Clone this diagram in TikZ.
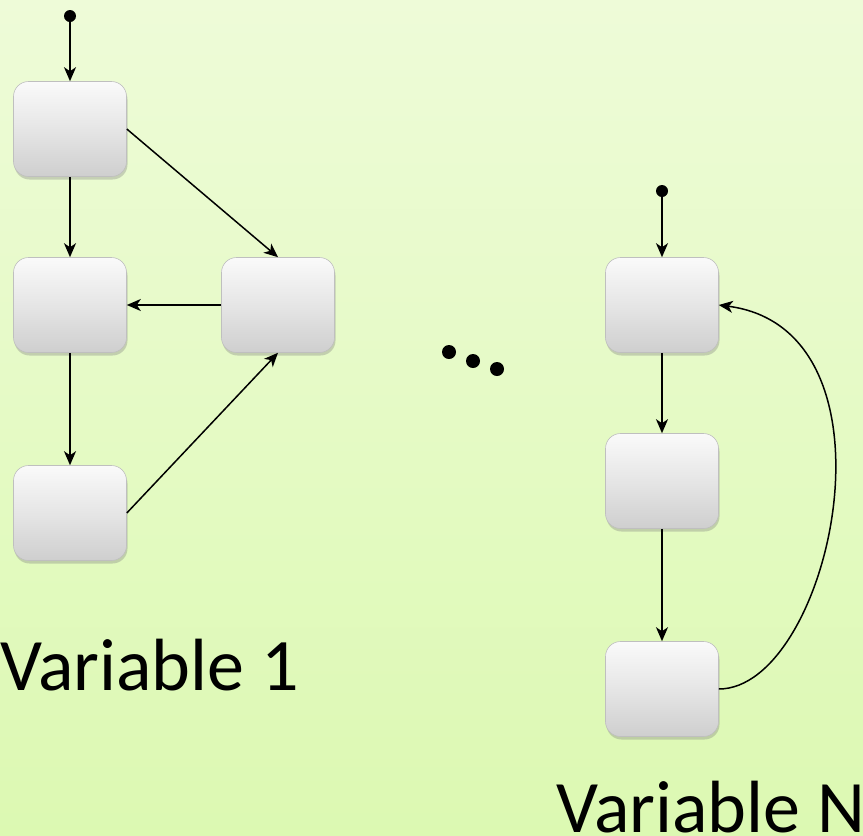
\documentclass[tikz,border=0pt]{standalone}
\usepackage{fontspec}
\setmainfont{Carlito}
\usetikzlibrary{arrows.meta, shadows}

\begin{document}
\begin{tikzpicture}[x=1pt, y=1pt,
   state/.style={rounded corners=15pt, minimum width=113pt, minimum height=95pt,
      draw=gray!50, line width=0.6pt, top color=gray!4, bottom color=gray!38,
      middle color=gray!20,
      drop shadow={shadow xshift=1pt, shadow yshift=-3pt, opacity=0.35}},
   start/.style={circle, fill=black, inner sep=0pt, minimum size=12pt},
   dot/.style={circle, fill=black, inner sep=0pt, minimum size=14pt},
   trans/.style={line width=1.5pt, -{Stealth[length=14pt, width=12pt, inset=4pt]}},
   varlabel/.style={inner sep=0pt, anchor=base west, font=\fontsize{74}{88}\selectfont}]
\useasboundingbox (0,-836) rectangle (863,0);
\shade[top color={rgb,255:red,238;green,251;blue,216}, bottom color={rgb,255:red,220;green,249;blue,178}]
   (0,-836) rectangle (863,0);
\begin{scope}
\clip (0,-836) rectangle (863,0);
% variable 1
\node[start] (s1) at (70,-16) {};
\node[state] (a1) at (70,-129) {};
\node[state] (a2) at (70,-305) {};
\node[state] (a3) at (70,-513) {};
\node[state] (a4) at (278,-305) {};
\draw[trans] (s1) -- (a1.north);
\draw[trans] (a1) -- (a2);
\draw[trans] (a1.east) -- (a4.north);
\draw[trans] (a4) -- (a2);
\draw[trans] (a2) -- (a3);
\draw[trans] (a3.east) -- (a4.south);
\node[varlabel] (l1) at (0,-690) {Variable 1};
% dots
\node[dot] (d1) at (449,-352) {};
\node[dot] (d2) at (473,-361) {};
\node[dot] (d3) at (497,-369) {};
% variable N
\node[start] (s2) at (662,-191) {};
\node[state] (b1) at (662,-305) {};
\node[state] (b2) at (662,-481) {};
\node[state] (b3) at (662,-689) {};
\draw[trans] (s2) -- (b1.north);
\draw[trans] (b1) -- (b2);
\draw[trans] (b2) -- (b3);
\draw[trans] (b3.east) .. controls (830,-689) and (910,-330) .. (b1.east);
\node[varlabel] (l2) at (556,-832) {Variable N};
\end{scope}
\end{tikzpicture}
\end{document}
